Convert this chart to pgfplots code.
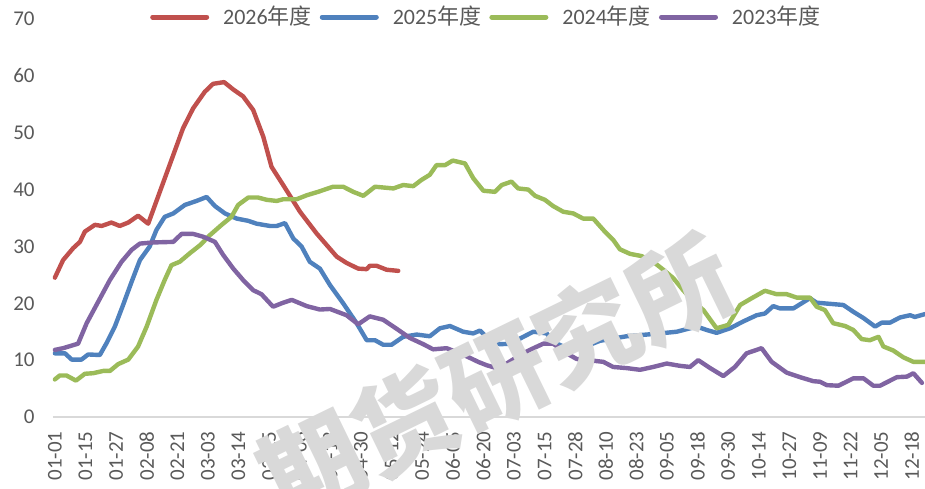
\documentclass[border=0pt]{standalone}
\usepackage{pgfplots}
\pgfplotsset{compat=1.18}
\usepackage{fontspec}
\setmainfont{Carlito}
\newfontfamily\cjk{Noto Sans CJK SC}
\definecolor{cred}{HTML}{C0504D}
\definecolor{cblue}{HTML}{4F81BD}
\definecolor{cgreen}{HTML}{9BBB59}
\definecolor{cpurple}{HTML}{8064A2}
\definecolor{txt}{HTML}{595959}
\definecolor{axl}{HTML}{D9D9D9}
\definecolor{wmc}{HTML}{D9D9D9}
\begin{document}
\begin{tikzpicture}
\begin{axis}[
  scale only axis, width=436pt, height=199pt,
  xmin=-0.06, xmax=28.43, ymin=0, ymax=70,
  axis x line*=bottom, axis y line*=left,
  y axis line style={draw=none},
  x axis line style={draw=axl, line width=0.8pt, -},
  xtick={0,...,28},
  xticklabels={01-01,01-15,01-27,02-08,02-21,03-03,03-14,03-25,04-06,04-18,04-30,05-12,05-24,06-05,06-20,07-03,07-15,07-28,08-10,08-23,09-05,09-18,09-30,10-14,10-27,11-09,11-22,12-05,12-18},
  ytick={0,10,...,70},
  major tick length=0pt,
  tick label style={font=\fontsize{10.5}{12}\selectfont, text=txt},
  /pgf/number format/assume math mode=true,
  xticklabel style={rotate=90, anchor=east, inner sep=0pt},
  xticklabel shift=7pt,
  yticklabel style={anchor=east, inner sep=0pt},
  yticklabel shift=9pt,
  legend style={draw=none, fill=none, at={(0.497,1.005)}, anchor=center,
    legend columns=4, font=\fontsize{11}{13}\selectfont, text=txt,
    nodes={inner sep=1pt},
    /tikz/every even column/.append style={column sep=3pt},
    /tikz/every odd column/.append style={column sep=6pt}},
  legend cell align=left,
  legend image code/.code={\draw[#1, line width=2.5pt, line cap=round] (0pt,0pt) -- (27pt,0pt);},
  every axis plot/.append style={line width=2.2pt, line join=round, line cap=round},
]
\addplot[cred] coordinates {
(0,24.5) (0.27,27.6) (0.60,29.7) (0.82,30.8) (0.98,32.6) (1.31,33.8) (1.53,33.6) (1.85,34.2) (2.12,33.6) (2.40,34.2) (2.72,35.4) (3.05,34.0) (3.43,39.6) (3.81,45.2) (4.19,50.8) (4.52,54.3) (4.90,57.2) (5.17,58.6) (5.53,58.9) (5.83,57.6) (6.15,56.4) (6.48,54.0) (6.81,49.3) (7.08,44.0) (7.46,40.8) (8.01,36.1) (8.55,32.3) (9.21,28.2) (9.53,27.1) (9.91,26.1) (10.19,26.0) (10.29,26.6) (10.51,26.6) (10.84,25.9) (11.22,25.7)
};
\addlegendentry{2026{\cjk 年度}}
\addplot[cblue] coordinates {
(0,11.2) (0.33,11.2) (0.55,10.1) (0.87,10.1) (1.09,11.0) (1.47,10.9) (1.69,13.0) (1.96,15.9) (2.23,19.7) (2.51,23.8) (2.78,27.6) (3.10,30.0) (3.32,32.9) (3.59,35.2) (3.87,35.8) (4.25,37.3) (4.63,38.0) (4.96,38.7) (5.23,37.1) (5.56,35.8) (5.94,34.9) (6.32,34.5) (6.59,34.0) (7.03,33.6) (7.25,33.6) (7.52,34.1) (7.79,31.4) (8.06,30.0) (8.33,27.3) (8.66,26.1) (8.99,23.2) (9.42,20.0) (9.86,16.5) (10.19,13.5) (10.46,13.5) (10.73,12.7) (11.00,12.7) (11.38,14.1) (11.82,14.5) (12.25,14.2) (12.58,15.6) (12.91,16.0) (13.34,15.0) (13.67,14.7) (13.89,15.2) (14.16,13.8) (14.54,12.8) (14.92,12.9) (15.20,13.8) (15.63,15.0) (16.07,14.7) (16.28,13.2) (16.61,12.4) (16.99,12.0) (17.48,12.7) (17.81,13.4) (18.25,13.8) (18.68,14.2) (19.12,14.4) (19.77,14.7) (20.32,15.0) (20.97,15.9) (21.30,15.3) (21.62,14.8) (22.06,15.6) (22.49,16.8) (22.93,17.9) (23.20,18.2) (23.47,19.5) (23.69,19.1) (24.13,19.1) (24.40,20.0) (24.67,20.9) (24.89,20.1) (25.33,19.9) (25.76,19.7) (26.09,18.5) (26.42,17.4) (26.80,15.9) (27.02,16.6) (27.29,16.6) (27.61,17.5) (27.94,17.9) (28.10,17.6) (28.43,18.1)
};
\addlegendentry{2025{\cjk 年度}}
\addplot[cgreen] coordinates {
(0,6.6) (0.16,7.3) (0.38,7.3) (0.69,6.4) (0.98,7.6) (1.25,7.7) (1.58,8.1) (1.80,8.1) (2.07,9.3) (2.40,10.1) (2.72,12.4) (3.00,15.9) (3.32,20.6) (3.59,24.1) (3.81,26.7) (4.08,27.3) (4.41,28.8) (4.74,30.2) (5.07,32.0) (5.45,33.8) (5.77,35.2) (5.99,37.3) (6.32,38.6) (6.64,38.6) (6.92,38.2) (7.25,38.0) (7.46,38.3) (7.90,38.3) (8.23,39.0) (8.60,39.6) (9.09,40.5) (9.42,40.5) (9.75,39.6) (10.08,38.9) (10.46,40.5) (11.06,40.2) (11.38,40.8) (11.71,40.6) (11.98,41.7) (12.25,42.6) (12.47,44.3) (12.75,44.3) (13.00,45.1) (13.40,44.6) (13.67,42.0) (14.00,39.8) (14.38,39.6) (14.60,40.8) (14.92,41.4) (15.14,40.2) (15.47,40.0) (15.69,38.9) (16.01,38.2) (16.28,37.1) (16.61,36.1) (16.94,35.8) (17.26,34.9) (17.59,34.9) (17.97,32.6) (18.25,31.1) (18.46,29.5) (18.79,28.7) (19.17,28.3) (19.55,27.3) (19.88,25.9) (20.21,24.4) (20.53,22.3) (20.86,20.3) (21.19,18.8) (21.62,15.6) (22.00,16.2) (22.39,19.7) (22.77,20.9) (23.20,22.2) (23.58,21.6) (23.91,21.6) (24.24,21.0) (24.67,21.0) (24.89,19.4) (25.16,18.8) (25.43,16.5) (25.82,16.0) (26.09,15.3) (26.36,13.7) (26.63,13.5) (26.91,14.1) (27.07,12.4) (27.39,11.7) (27.72,10.5) (28.05,9.7) (28.43,9.7)
};
\addlegendentry{2024{\cjk 年度}}
\addplot[cpurple] coordinates {
(0,11.8) (0.27,12.1) (0.76,12.9) (1.04,16.5) (1.42,20.3) (1.80,24.1) (2.18,27.3) (2.51,29.4) (2.78,30.5) (3.21,30.7) (3.87,30.8) (4.14,32.2) (4.52,32.2) (4.85,31.7) (5.23,30.8) (5.50,28.5) (5.83,26.1) (6.15,24.1) (6.48,22.3) (6.75,21.6) (7.13,19.4) (7.46,20.1) (7.74,20.6) (8.23,19.5) (8.66,18.9) (8.99,19.0) (9.53,17.9) (9.91,16.3) (10.29,17.7) (10.73,17.1) (11.17,15.5) (11.60,13.9) (12.04,12.8) (12.36,11.9) (12.80,12.1) (13.24,11.2) (13.56,10.4) (13.83,9.7) (14.11,9.1) (14.43,8.6) (14.76,9.4) (15.20,10.9) (15.52,11.8) (15.96,12.9) (16.28,12.9) (16.72,11.2) (17.05,10.2) (17.26,10.1) (17.92,9.7) (18.24,8.8) (18.68,8.6) (19.12,8.3) (19.55,8.8) (19.99,9.4) (20.42,9.0) (20.75,8.8) (21.02,10.0) (21.41,8.6) (21.84,7.2) (22.22,8.8) (22.60,11.2) (23.09,12.1) (23.42,9.7) (23.91,7.8) (24.35,7.0) (24.78,6.3) (25.00,6.2) (25.22,5.6) (25.60,5.5) (26.09,6.8) (26.42,6.8) (26.74,5.5) (26.96,5.5) (27.51,7.0) (27.84,7.1) (28.05,7.7) (28.33,6.0)
};
\addlegendentry{2023{\cjk 年度}}
\coordinate (wm) at (rel axis cs:0.508,0.10);
\end{axis}
\node[overlay, rotate=26, text=wmc, font=\cjk\bfseries\fontsize{51}{51}\selectfont] at (wm) {期货研究所};
\pgfresetboundingbox
\path[use as bounding box] ([xshift=-26.5pt,yshift=-36pt]current axis.south west) rectangle ([yshift=9.5pt]current axis.north east);
\end{tikzpicture}
\end{document}
